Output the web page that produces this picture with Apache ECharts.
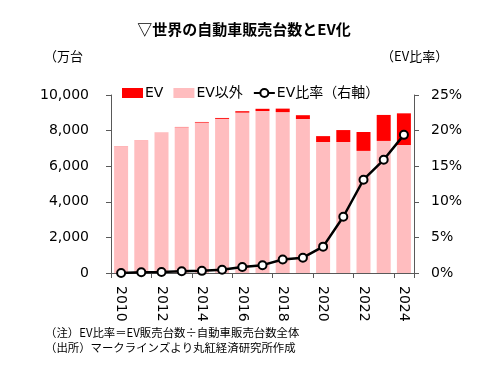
<!DOCTYPE html>
<html><head><meta charset="utf-8">
<script src="https://cdn.jsdelivr.net/npm/echarts@6/dist/echarts.min.js"></script>
<style>html,body{margin:0;padding:0;background:#fff}#c{width:488px;height:368px}</style>
</head><body><div id="c"></div>
<script>
const years = ['2010','2011','2012','2013','2014','2015','2016','2017','2018','2019','2020','2021','2022','2023','2024'];
const evSales = [2, 5, 8, 15, 35, 50, 80, 125, 195, 215, 330, 670, 1060, 1460, 1780];
const nonEvSales = [7130, 7460, 7880, 8190, 8450, 8660, 9010, 9100, 9040, 8650, 7360, 7360, 6860, 7420, 7190];
const evRatio = [0.0, 0.1, 0.15, 0.25, 0.3, 0.45, 0.85, 1.1, 1.9, 2.15, 3.7, 7.9, 13.1, 15.9, 19.4];
const leftTicks = [0, 2000, 4000, 6000, 8000, 10000];
const rightTicks = [0, 5, 10, 15, 20, 25];

const FONT = '"DejaVu Sans","Noto Sans CJK JP",sans-serif';
const JP = '"Noto Sans CJK JP","DejaVu Sans",sans-serif';
const axisColor = '#595959';
const chart = echarts.init(document.getElementById('c'), null, {renderer: 'canvas'});
chart.setOption({
  animation: false,
  backgroundColor: '#fff',
  textStyle: {fontFamily: FONT},
  title: {
    text: '▽世界の自動車販売台数とEV化',
    left: 'center', top: 17,
    textStyle: {fontFamily: JP, fontSize: 15, fontWeight: 'bold', color: '#000'}
  },
  graphic: [
    {type: 'text', left: 44, top: 50, style: {text: '（万台', font: '13px ' + JP, fill: '#000'}},
    {type: 'text', left: 381, top: 50, style: {text: '（EV比率）', font: '13px ' + JP, fill: '#000'}},
    {type: 'text', left: 45, top: 327, style: {text: '（注）EV比率＝EV販売台数÷自動車販売台数全体', font: '11.4px ' + JP, fill: '#000'}},
    {type: 'text', left: 45, top: 342, style: {text: '（出所）マークラインズより丸紅経済研究所作成', font: '11.4px ' + JP, fill: '#000'}}
  ],
  legend: {
    data: [{name: 'EV', icon: 'rect'}, {name: 'EV以外', icon: 'rect'}, 'EV比率（右軸）'],
    top: 81, left: 117,
    itemWidth: 21, itemHeight: 10, itemGap: 10,
    textStyle: {fontFamily: FONT, fontSize: 14, color: '#000', padding: [0, 0, 0, -3]}
  },
  grid: {left: 111, right: 74, top: 95, bottom: 95},
  xAxis: {
    type: 'category', data: years,
    axisLine: {lineStyle: {color: axisColor, width: 1}},
    axisTick: {show: true, interval: 1, length: 5, lineStyle: {color: axisColor}},
    axisLabel: {interval: 1, rotate: -90, margin: 13, fontSize: 14, color: '#000', fontFamily: FONT}
  },
  yAxis: [
    {
      type: 'value', min: 0, max: 10000, interval: 2000,
      axisLine: {show: true, lineStyle: {color: axisColor}},
      axisTick: {show: true, length: 5, lineStyle: {color: axisColor}},
      splitLine: {show: false},
      axisLabel: {margin: 22, fontSize: 14, color: '#000', fontFamily: FONT,
        formatter: v => leftTicks.includes(v) ? v.toLocaleString('en-US') : ''}
    },
    {
      type: 'value', min: 0, max: 25, interval: 5,
      axisLine: {show: true, lineStyle: {color: axisColor}},
      axisTick: {show: true, length: 5, lineStyle: {color: axisColor}},
      splitLine: {show: false},
      axisLabel: {margin: 17, fontSize: 14, color: '#000', fontFamily: FONT,
        formatter: v => rightTicks.includes(v) ? v + '%' : ''}
    }
  ],
  series: [
    {name: 'EV以外', type: 'bar', stack: 's', data: nonEvSales, barWidth: 14,
     itemStyle: {color: '#FFBDBF'}},
    {name: 'EV', type: 'bar', stack: 's', data: evSales, barWidth: 14,
     itemStyle: {color: '#FF0000'}},
    {name: 'EV比率（右軸）', type: 'line', yAxisIndex: 1, data: evRatio, z: 5,
     symbol: 'circle', symbolSize: 8,
     lineStyle: {color: '#000', width: 2.5},
     itemStyle: {color: '#fff', borderColor: '#000', borderWidth: 2}}
  ]
});
</script></body></html>
